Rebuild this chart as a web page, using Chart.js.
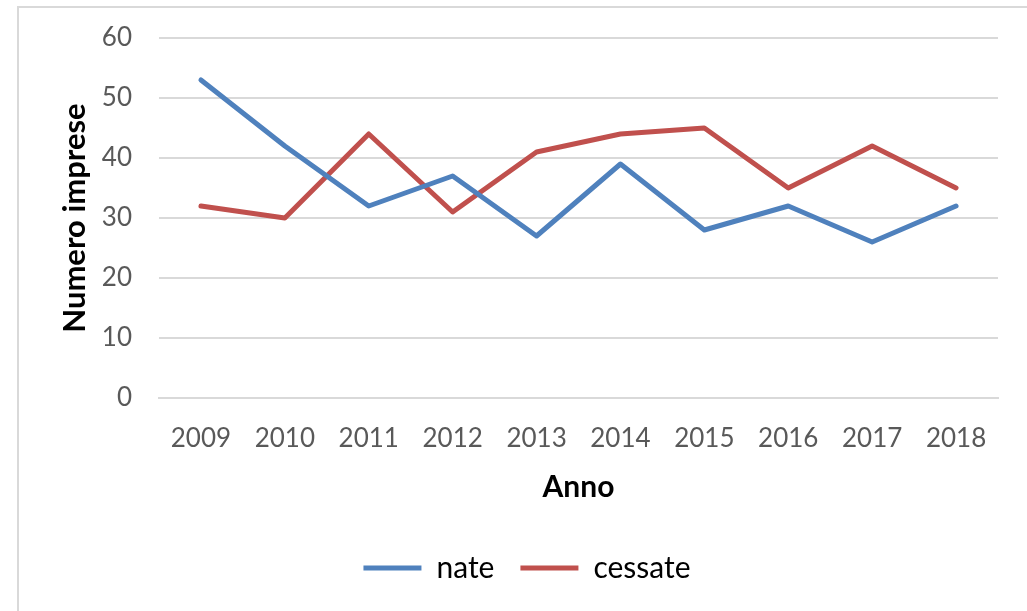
<!DOCTYPE html>
<html>
<head>
<meta charset="utf-8">
<script src="https://cdn.jsdelivr.net/npm/chart.js@4"></script>
<style>
  html, body { margin: 0; padding: 0; background: #fff; overflow: hidden; }
  #frame { position: absolute; left: 17px; top: 6px; width: 1100px; height: 700px; border: 2px solid #d9d9d9; box-sizing: border-box; }
  #wrap { position: absolute; left: 0; top: 0; width: 1027px; height: 611px; }
</style>
</head>
<body>
<div id="frame"></div>
<div id="wrap"><canvas id="c" width="1027" height="611"></canvas></div>
<script>
const years = ['2009','2010','2011','2012','2013','2014','2015','2016','2017','2018'];
const nate = [53, 42, 32, 37, 27, 39, 28, 32, 26, 32];
const cessate = [32, 30, 44, 31, 41, 44, 45, 35, 42, 35];
const seriesNames = ['nate', 'cessate'];
const yTicks = [0, 10, 20, 30, 40, 50, 60];

const blue = '#4f81bd';
const red = '#c0504d';

new Chart(document.getElementById('c'), {
  type: 'line',
  data: {
    labels: years,
    datasets: [
      { label: seriesNames[0], data: nate, borderColor: blue, backgroundColor: blue, borderWidth: 5, pointRadius: 0, tension: 0, borderCapStyle: 'round', borderJoinStyle: 'round' },
      { label: seriesNames[1], data: cessate, borderColor: red, backgroundColor: red, borderWidth: 5, pointRadius: 0, tension: 0, borderCapStyle: 'round', borderJoinStyle: 'round' }
    ]
  },
  options: {
    responsive: false,
    animation: false,
    devicePixelRatio: 1,
    layout: { padding: { top: 38, right: 29, bottom: 18, left: 56 } },
    plugins: {
      tooltip: { enabled: false },
      legend: {
        position: 'bottom',
        labels: {
          usePointStyle: true,
          pointStyle: 'line',
          pointStyleWidth: 58,
          padding: 26,
          color: '#000',
          font: { family: 'Lato', size: 30 }
        }
      }
    },
    scales: {
      x: {
        offset: true,
        grid: { display: false, drawTicks: false },
        border: { display: true, color: '#d9d9d9', width: 2 },
        ticks: { color: '#595959', font: { family: 'Lato', size: 26 }, padding: 25, maxRotation: 0 },
        title: { display: true, text: 'Anno', color: '#000', font: { family: 'Lato', size: 30, weight: 'bold' }, padding: { top: 0, bottom: 22 } },
        afterFit: (s) => { s.height = 129; }
      },
      y: {
        min: 0, max: 60,
        afterBuildTicks: (s) => { s.ticks = yTicks.map(v => ({ value: v })); },
        grid: { color: '#d9d9d9', lineWidth: 2, drawTicks: false },
        border: { display: false },
        ticks: { color: '#595959', font: { family: 'Lato', size: 26, lineHeight: 0.8 }, padding: 27 },
        title: { display: true, text: 'Numero imprese', color: '#000', font: { family: 'Lato', size: 31, weight: 'bold' }, padding: { top: 0, bottom: 0 } },
        afterFit: (s) => { s.width = 103; s.paddingTop = 0; s.paddingBottom = 0; }
      }
    }
  }
});
</script>
</body>
</html>
